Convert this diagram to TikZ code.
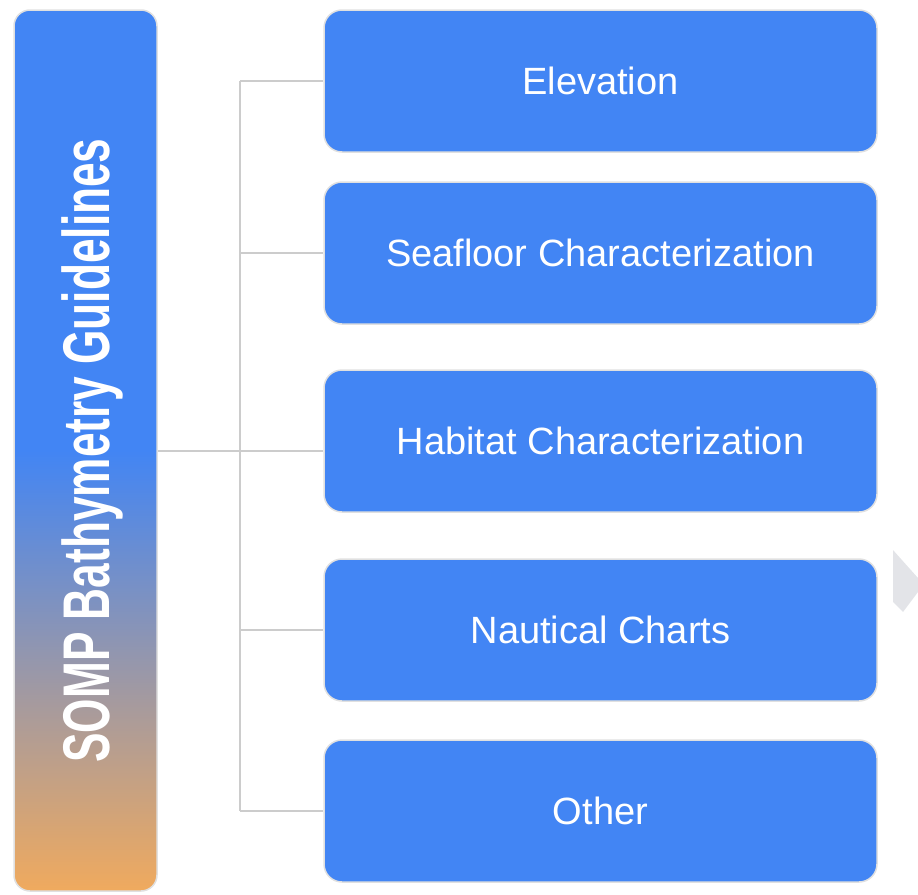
\documentclass[tikz,border=0pt]{standalone}
\usepackage{fontspec}
\setmainfont{Liberation Sans}
\definecolor{boxblue}{HTML}{4285F4}
\definecolor{barorange}{HTML}{F0AA5E}
\definecolor{linegray}{HTML}{CCCCCC}
\definecolor{chevgray}{HTML}{E3E4E8}

\begin{document}
\begin{tikzpicture}[x=1pt, y=-1pt,
    topic/.style={fill=boxblue, draw=black!12, line width=1.5pt, rounded corners=18pt, minimum width=553pt, minimum height=142pt, text=white, font=\fontsize{38}{40}\selectfont},
    link/.style={draw=linegray, line width=2pt}
]
    \useasboundingbox (0,0) rectangle (918,894);

    % Title bar
    \node[draw=black!12, line width=1.5pt, rounded corners=16pt, top color=boxblue, bottom color=barorange, middle color=boxblue, minimum width=143pt, minimum height=881pt] (bar) at (85.5,450.5) {};
    \node[rotate=90, text=white, text depth=0pt, font=\bfseries\fontsize{66}{66}\selectfont] (title) at (bar.center) {\scalebox{0.67}[1]{SOMP Bathymetry Guidelines}};

    % Topics
    \node[topic] (elev) at (600.5,81) {Elevation};
    \node[topic] (seafloor) at (600.5,253) {Seafloor Characterization};
    \node[topic] (habitat) at (600.5,441) {Habitat Characterization};
    \node[topic] (charts) at (600.5,630) {Nautical Charts};
    \node[topic] (other) at (600.5,811) {Other};

    % Connectors
    \coordinate (hub) at (240,451);
    \draw[link] (bar.east |- hub) -- (hub -| habitat.west);
    \draw[link] (hub |- elev) -- (hub |- other);
    \foreach \n in {elev, seafloor, charts, other}
        \draw[link] (hub |- \n) -- (\n.west);

    % Chevron at the edge
    \fill[chevgray] (893,550) -- (918,578) -- (918,592) -- (903,612) -- (893,602) -- cycle;
\end{tikzpicture}
\end{document}
